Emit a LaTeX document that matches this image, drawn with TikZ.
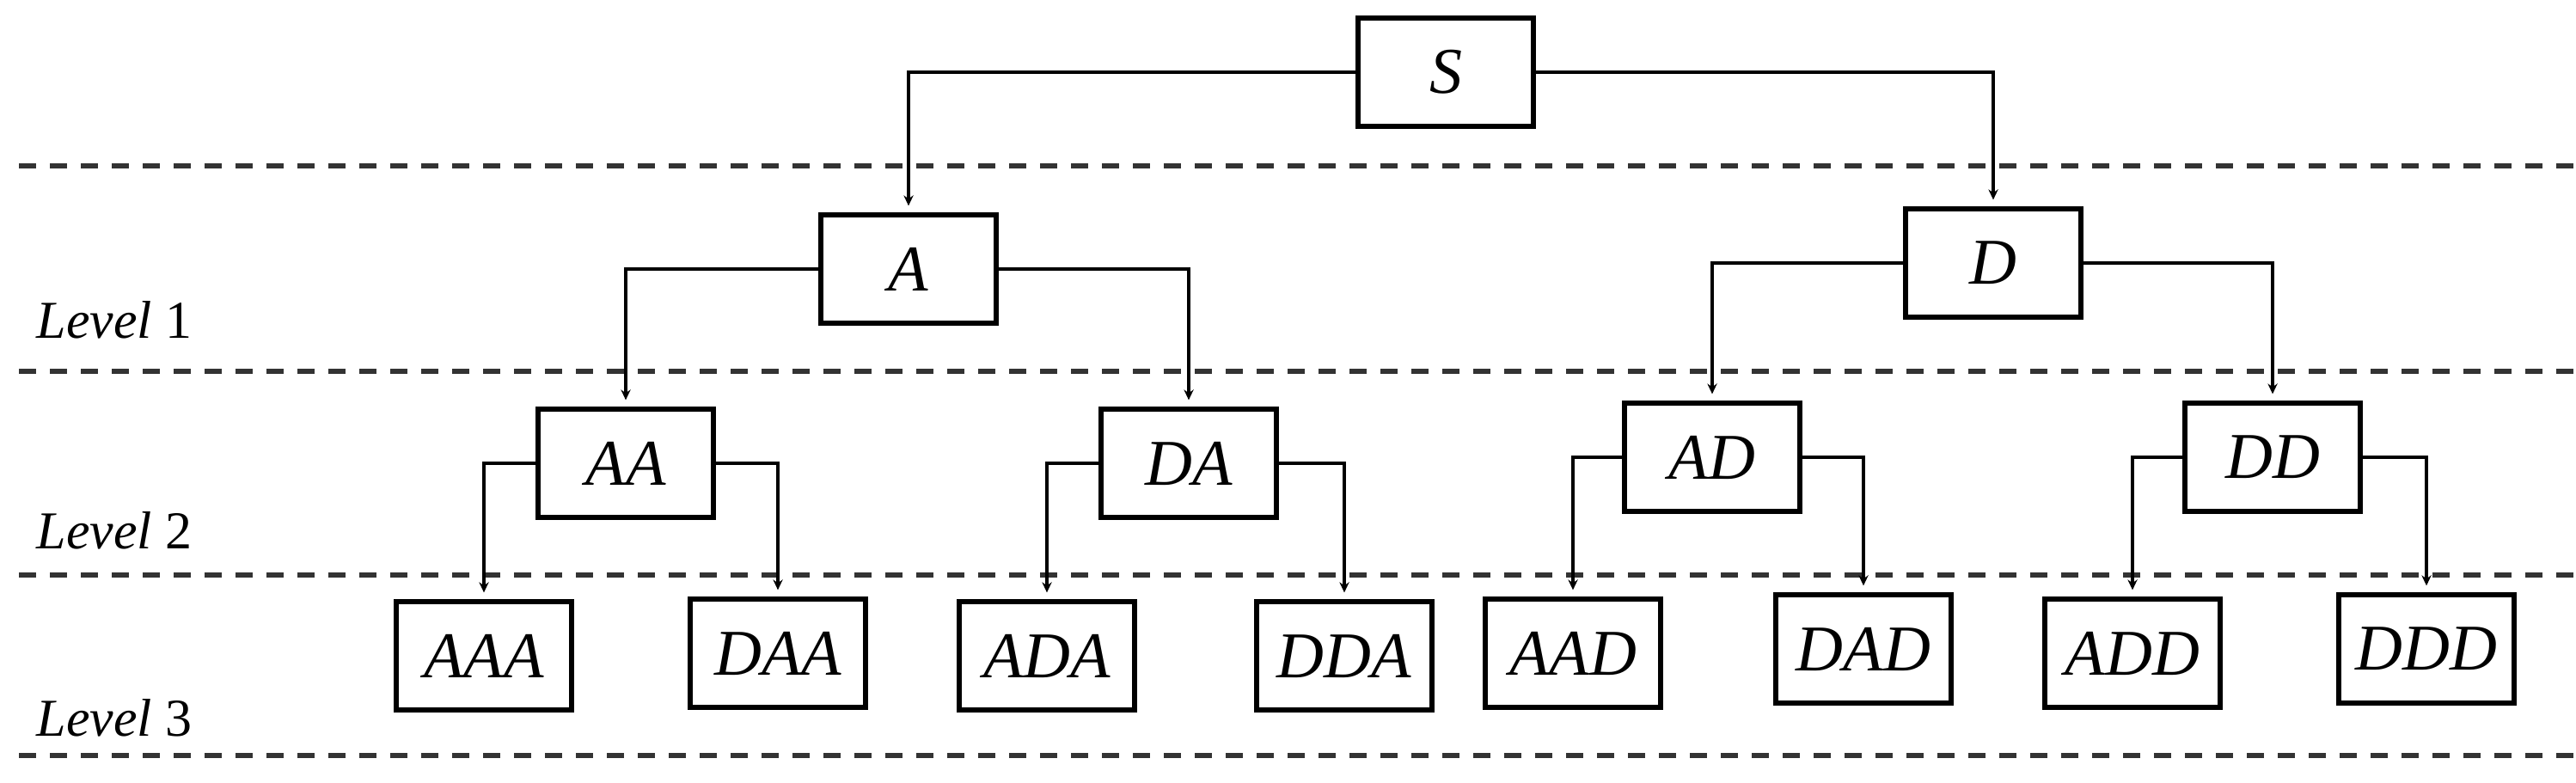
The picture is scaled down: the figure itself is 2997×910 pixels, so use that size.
\documentclass[tikz,border=0pt]{standalone}
\usepackage{fontspec}
\setmainfont{Liberation Serif}
\usetikzlibrary{arrows.meta}
\begin{document}
\begin{tikzpicture}[x=0.25pt,y=-0.25pt,
  box/.style={draw,line width=1.3pt,minimum width=51pt,minimum height=31.5pt,inner sep=0pt,font=\fontsize{19}{22}\selectfont\itshape},
  conn/.style={line width=0.9pt,-{Stealth[length=3pt,width=2.8pt]}},
  lvl/.style={anchor=west,inner sep=0pt,font=\fontsize{15.5}{18}\selectfont},
  sepline/.style={line width=1.4pt,dash pattern=on 5pt off 4pt,draw=black!80}]
\useasboundingbox (0,0) rectangle (2997,910);
\foreach \y/\n in {193/d0,432/d1,669/d2,879/d3}{
  \coordinate (\n l) at (22,\y); \coordinate (\n r) at (2997,\y);
  \draw[sepline] (\n l) -- (\n r);}
\node[box] (S) at (1682,84) {S};
\node[box] (A) at (1057,313) {A};
\node[box] (D) at (2319,306) {D};
\node[box] (AA) at (728,539) {AA};
\node[box] (DA) at (1383,539) {DA};
\node[box] (AD) at (1992,532) {AD};
\node[box] (DD) at (2644,532) {DD};
\node[box] (AAA) at (563,763) {AAA};
\node[box] (DAA) at (905,760) {DAA};
\node[box] (ADA) at (1218,763) {ADA};
\node[box] (DDA) at (1564,763) {DDA};
\node[box] (AAD) at (1830,760) {AAD};
\node[box] (DAD) at (2168,755) {DAD};
\node[box] (ADD) at (2481,760) {ADD};
\node[box] (DDD) at (2823,755) {DDD};
\foreach \p/\l/\r in {S/A/D,A/AA/DA,D/AD/DD,AA/AAA/DAA,DA/ADA/DDA,AD/AAD/DAD,DD/ADD/DDD}{
  \draw[conn] (\p.west) -| ([yshift=2pt]\l.north);
  \draw[conn] (\p.east) -| ([yshift=2pt]\r.north);}
\node[lvl] (L1) at (42,372) {\textit{Level} 1};
\node[lvl] (L2) at (42,617) {\textit{Level} 2};
\node[lvl] (L3) at (42,835) {\textit{Level} 3};
\end{tikzpicture}
\end{document}
